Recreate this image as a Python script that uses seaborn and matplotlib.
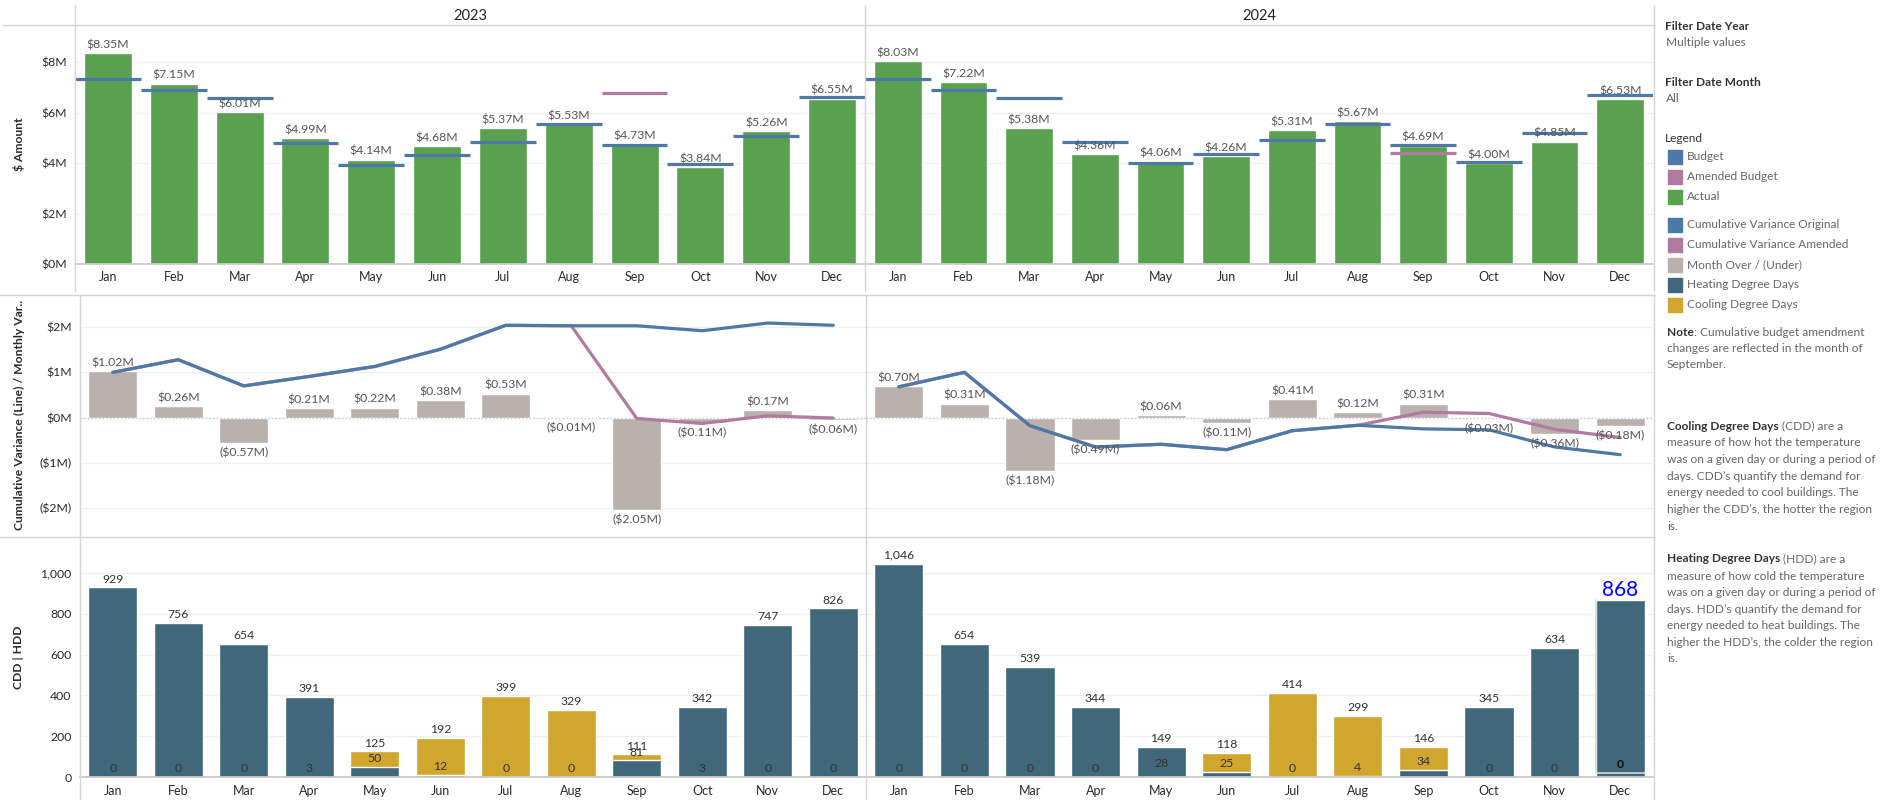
import numpy as np
import pandas as pd
import seaborn as sns
import matplotlib.pyplot as plt
from matplotlib.patches import Rectangle
from matplotlib.lines import Line2D

months = ["Jan", "Feb", "Mar", "Apr", "May", "Jun", "Jul", "Aug", "Sep", "Oct", "Nov", "Dec"]
years = ["2023", "2024"]

# $ millions
actual = {
    "2023": [8.35, 7.15, 6.01, 4.99, 4.14, 4.68, 5.37, 5.53, 4.73, 3.84, 5.26, 6.55],
    "2024": [8.03, 7.22, 5.38, 4.36, 4.06, 4.26, 5.31, 5.67, 4.69, 4.00, 4.85, 6.53],
}
budget = {
    "2023": [7.33, 6.89, 6.58, 4.78, 3.92, 4.30, 4.84, 5.54, 4.72, 3.95, 5.09, 6.61],
    "2024": [7.33, 6.91, 6.56, 4.85, 4.00, 4.37, 4.90, 5.55, 4.73, 4.03, 5.21, 6.71],
}
nan = np.nan
amended_budget = {
    "2023": [nan, nan, nan, nan, nan, nan, nan, nan, 6.78, nan, nan, nan],
    "2024": [nan, nan, nan, nan, nan, nan, nan, nan, 4.38, nan, nan, nan],
}
over_under = {
    "2023": [1.02, 0.26, -0.57, 0.21, 0.22, 0.38, 0.53, -0.01, -2.05, -0.11, 0.17, -0.06],
    "2024": [0.70, 0.31, -1.18, -0.49, 0.06, -0.11, 0.41, 0.12, 0.31, -0.03, -0.36, -0.18],
}
cum_original = {
    "2023": [1.00, 1.28, 0.70, 0.91, 1.13, 1.51, 2.04, 2.03, 2.03, 1.92, 2.09, 2.04],
    "2024": [0.68, 1.00, -0.18, -0.65, -0.59, -0.71, -0.29, -0.17, -0.25, -0.27, -0.65, -0.82],
}
cum_amended = {
    "2023": [1.00, 1.28, 0.70, 0.91, 1.13, 1.51, 2.04, 2.03, -0.02, -0.13, 0.04, -0.01],
    "2024": [0.68, 1.00, -0.18, -0.65, -0.59, -0.71, -0.29, -0.17, 0.12, 0.09, -0.26, -0.44],
}
hdd = {
    "2023": [929, 756, 654, 391, 50, 12, 0, 0, 81, 342, 747, 826],
    "2024": [1046, 654, 539, 344, 149, 25, 0, 4, 34, 345, 634, 868],
}
cdd = {
    "2023": [0, 0, 0, 3, 125, 192, 399, 329, 111, 3, 0, 0],
    "2024": [0, 0, 0, 0, 28, 118, 414, 299, 146, 0, 0, 0],
}

GREEN = "#59A14F"
BLUE = "#4E79A7"
PINK = "#B07AA1"
TAUPE = "#BAB0AC"
HDD_C = "#40687A"
CDD_C = "#D0A62E"
BORDER = "#d4d4d4"
GRID = "#f0f0f0"
LABEL = "#555555"
TICK = "#2a2a2a"

sns.set_theme(style="white")
plt.rcParams["font.family"] = ["Lato", "DejaVu Sans"]

W, H = 1902, 800
fig = plt.figure(figsize=(W / 100, H / 100), dpi=100)


def px_axes(x0, y0, x1, y1):
    return fig.add_axes([x0 / W, 1 - y1 / H, (x1 - x0) / W, (y1 - y0) / H])


def fig_line(x0, y0, x1, y1, **kw):
    fig.add_artist(Line2D([x0 / W, x1 / W], [1 - y0 / H, 1 - y1 / H], color=BORDER, lw=1, **kw))


def money(v):
    return f"${v:.2f}M" if v >= 0 else f"(${-v:.2f}M)"


def style_axes(ax, ylim, ticks, ticklabels, show_y, show_x):
    ax.set_xlim(-0.5, len(months) - 0.5)
    ax.set_ylim(*ylim)
    ax.set_yticks(ticks)
    ax.set_yticklabels(ticklabels if show_y else [])
    ax.yaxis.grid(True, color=GRID, lw=1)
    ax.set_axisbelow(True)
    for s in ax.spines.values():
        s.set_visible(False)
    ax.set_xlabel("")
    ax.set_ylabel("")
    ax.set_xticks(range(len(months)))
    ax.set_xticks(np.arange(len(months) - 1) + 0.5, minor=True)
    ax.tick_params(axis="y", length=0, pad=6, labelsize=8.8, labelcolor=TICK)
    ax.tick_params(axis="x", which="major", length=0, labelsize=9, labelcolor=TICK)
    ax.tick_params(axis="x", which="minor", length=5 if show_x else 0, color="#e2e2e2", width=1)
    if show_x:
        ax.set_xticklabels(months)
    else:
        ax.set_xticklabels([])


x_split = {"top": (75, 865, 1653), "rest": (80, 866, 1653)}
pos = np.arange(len(months))

for k, yr in enumerate(years):
    # ---- top: actual vs budget
    xs = x_split["top"]
    ax = px_axes(xs[k], 25, xs[k + 1], 264)
    df = pd.DataFrame({"month": months, "actual": actual[yr]})
    sns.barplot(data=df, x="month", y="actual", order=months, color=GREEN,
                saturation=1, width=0.73, errorbar=None, ax=ax)
    ax.hlines(budget[yr], pos - 0.5, pos + 0.5, color=BLUE, lw=2.3, zorder=4)
    amd = np.array(amended_budget[yr])
    ok = ~np.isnan(amd)
    ax.hlines(amd[ok], pos[ok] - 0.5, pos[ok] + 0.5, color=PINK, lw=2.3, zorder=4)
    for i, v in enumerate(actual[yr]):
        ax.annotate(money(v), (i, v), xytext=(0, 2), textcoords="offset points",
                    ha="center", va="bottom", fontsize=8.8, color=LABEL, zorder=5)
    style_axes(ax, (0, 9.47), [0, 2, 4, 6, 8], ["$0M", "$2M", "$4M", "$6M", "$8M"],
               k == 0, True)
    ax.tick_params(axis="x", pad=5)
    ax.spines["bottom"].set_visible(True)
    ax.spines["bottom"].set_color("#c8c8c8")
    ax.text(0.5, (16 - 25) / -239 + 1, yr, transform=ax.transAxes, ha="center",
            va="center", fontsize=10.5, color="#222222")

    # ---- middle: variance
    xs = x_split["rest"]
    ax = px_axes(xs[k], 295, xs[k + 1], 537)
    df = pd.DataFrame({"month": months, "over": over_under[yr]})
    sns.barplot(data=df, x="month", y="over", order=months, color=TAUPE,
                saturation=1, width=0.75, errorbar=None, ax=ax)
    ax.axhline(0, color="#cccccc", lw=1, ls=":", zorder=1)
    sns.lineplot(x=pos, y=cum_amended[yr], color=PINK, lw=2.3, ax=ax, zorder=3)
    sns.lineplot(x=pos, y=cum_original[yr], color=BLUE, lw=2.3, ax=ax, zorder=4)
    for i, v in enumerate(over_under[yr]):
        if v >= 0:
            ax.annotate(money(v), (i, v), xytext=(0, 2), textcoords="offset points",
                        ha="center", va="bottom", fontsize=8.8, color=LABEL, zorder=5)
        else:
            ax.annotate(money(v), (i, v), xytext=(0, -3), textcoords="offset points",
                        ha="center", va="top", fontsize=8.8, color=LABEL, zorder=5)
    style_axes(ax, (-2.64, 2.71), [-2, -1, 0, 1, 2],
               ["($2M)", "($1M)", "$0M", "$1M", "$2M"], k == 0, False)

    # ---- bottom: degree days
    ax = px_axes(xs[k], 537, xs[k + 1], 777)
    df = pd.DataFrame({"month": months, "hdd": hdd[yr], "cdd": cdd[yr]})
    sns.barplot(data=df, x="month", y="cdd", order=months, color=CDD_C,
                saturation=1, width=0.75, errorbar=None, ax=ax)
    sns.barplot(data=df, x="month", y="hdd", order=months, color=HDD_C,
                saturation=1, width=0.75, errorbar=None, ax=ax)
    last = len(months) - 1
    for i, (h, c) in enumerate(zip(hdd[yr], cdd[yr])):
        for v in (h, c):
            selected = yr == "2024" and i == last
            if selected and v == h:
                ax.annotate(f"{v:,}", (i, v), xytext=(0, 0), textcoords="offset points",
                            ha="center", va="bottom", fontsize=15, color="#0000ff", zorder=6)
            elif selected:
                ax.annotate(f"{v:,}", (i, v), xytext=(0, 5), textcoords="offset points",
                            ha="center", va="bottom", fontsize=8.8, color="#111111",
                            weight="bold", zorder=6)
            else:
                ax.annotate(f"{v:,}", (i, v), xytext=(0, 2), textcoords="offset points",
                            ha="center", va="bottom", fontsize=8.8, color="#333333", zorder=6)
    if yr == "2024":
        # selection outline on the highlighted December bar
        sel = ax.patches[-1]
        x0, bw = sel.get_x(), sel.get_width()
        top = hdd[yr][last]
        ax.plot([x0, x0, x0 + bw], [top, 20, 20], color="#d9d9d9", lw=1.2, zorder=5)
    style_axes(ax, (0, 1176), [0, 200, 400, 600, 800, 1000],
               ["0", "200", "400", "600", "800", "1,000"], k == 0, True)
    ax.tick_params(axis="x", pad=6)
    ax.spines["bottom"].set_visible(True)
    ax.spines["bottom"].set_color("#c8c8c8")

# ---- panel borders
fig_line(3, 25, 1655, 25)
fig_line(0, 295, 1655, 295)
fig_line(0, 537, 1655, 537)
fig_line(75, 5, 75, 291)
fig_line(80, 295, 80, 800)
fig_line(865, 5, 865, 291)
fig_line(866, 295, 866, 800)
fig_line(1654, 5, 1654, 291)
fig_line(1654, 295, 1654, 800)

# ---- axis titles
fig.text(19 / W, 1 - 144 / H, "$ Amount", rotation=90, ha="center", va="center",
         fontsize=8.7, weight="bold", color=TICK)
fig.text(19 / W, 1 - 415 / H, "Cumulative Variance (Line) / Monthly Var..", rotation=90,
         ha="center", va="center", fontsize=8.7, weight="bold", color=TICK)
fig.text(19 / W, 1 - 657 / H, "CDD | HDD", rotation=90, ha="center", va="center",
         fontsize=8.7, weight="bold", color=TICK)

# ---- side panel
SIDE = "#666666"
fs = 8.6


def side(x, y, s, **kw):
    kw.setdefault("color", SIDE)
    kw.setdefault("fontsize", fs)
    return fig.text(x / W, 1 - y / H, s, va="center", ha="left", **kw)


side(1665, 27, "Filter Date Year", weight="bold", color="#333333")
side(1666, 43, "Multiple values")
side(1665, 83, "Filter Date Month", weight="bold", color="#333333")
side(1666, 99, "All")
side(1665, 138, "Legend", color="#333333")

legend_items = [
    ("Budget", BLUE, 157), ("Amended Budget", PINK, 177), ("Actual", GREEN, 197),
    ("Cumulative Variance Original", BLUE, 225), ("Cumulative Variance Amended", PINK, 245),
    ("Month Over / (Under)", TAUPE, 265), ("Heating Degree Days", HDD_C, 285),
    ("Cooling Degree Days", CDD_C, 305),
]
for name, col, y in legend_items:
    fig.add_artist(Rectangle((1668 / W, 1 - (y + 7) / H), 14 / W, 14 / H,
                             transform=fig.transFigure, color=col))
    side(1687, y, name)

renderer = fig.canvas.get_renderer()


def mixed(y, bold, rest):
    t = side(1667, y, bold, weight="bold", color="#333333")
    bb = t.get_window_extent(renderer)
    fig.text(bb.x1 / W, 1 - y / H, rest, va="center", ha="left", color=SIDE, fontsize=fs)


note_lines = ["changes are reflected in the month of", "September."]
mixed(332, "Note", ": Cumulative budget amendment")
for j, s in enumerate(note_lines):
    side(1667, 348 + j * 16.6, s)

cdd_lines = ["measure of how hot the temperature", "was on a given day or during a period of",
             "days. CDD\u2019s quantify the demand for", "energy needed to cool buildings. The",
             "higher the CDD\u2019s, the hotter the region", "is."]
mixed(426, "Cooling Degree Days", " (CDD) are a")
for j, s in enumerate(cdd_lines):
    side(1667, 443 + j * 16.6, s)

hdd_lines = ["measure of how cold the temperature", "was on a given day or during a period of",
             "days. HDD\u2019s quantify the demand for", "energy needed to heat buildings. The",
             "higher the HDD\u2019s, the colder the region", "is."]
mixed(559, "Heating Degree Days", " (HDD) are a")
for j, s in enumerate(hdd_lines):
    side(1667, 576 + j * 16.6, s)

fig.savefig("out.png", dpi=100)
